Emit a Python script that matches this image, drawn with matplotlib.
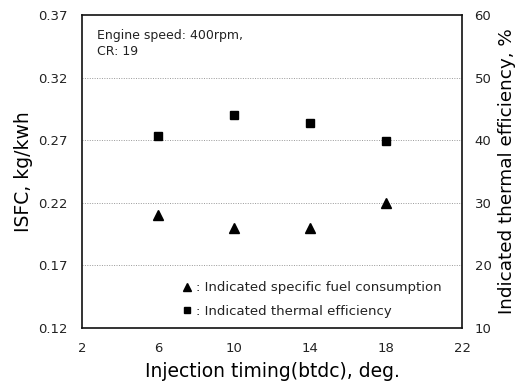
import matplotlib
matplotlib.use("Agg")
import matplotlib.pyplot as plt
from matplotlib.lines import Line2D

plt.rcParams['font.family'] = ['DejaVu Sans']

timing = [6, 10, 14, 18]
isfc = [0.210, 0.200, 0.200, 0.220]
ite = [40.7, 44.0, 42.7, 39.9]
left_ticks = [0.12, 0.17, 0.22, 0.27, 0.32, 0.37]
right_ticks = [10, 20, 30, 40, 50, 60]
x_ticks = [2, 6, 10, 14, 18, 22]

fig = plt.figure(figsize=(5.24, 3.89), dpi=100)
ax = fig.add_axes([0.1565, 0.1568, 0.7252, 0.8042])
ax.set_xlim(2, 22)
ax.set_ylim(0.12, 0.37)
ax.set_xticks(x_ticks)
ax.set_yticks(left_ticks)
ax.set_yticklabels([f"{t:.2f}" for t in left_ticks])
for t in left_ticks[1:-1]:
    ax.axhline(t, color='#999999', lw=0.7, ls=(0, (1, 1.5)), zorder=0)
ax.tick_params(axis='y', length=0, labelsize=9.5, pad=10, colors='#222222')
ax.tick_params(axis='x', length=0, labelsize=9.5, pad=10, colors='#222222')
for s in ax.spines.values():
    s.set_linewidth(1.2)
    s.set_color('#111111')

ax.plot(timing, isfc, ls='none', marker='^', color='black', ms=7)

ax2 = ax.twinx()
ax2.set_ylim(10, 60)
ax2.set_yticks(right_ticks)
ax2.tick_params(length=0, labelsize=9.5, pad=9, colors='#222222')
ax2.plot(timing, ite, ls='none', marker='s', color='black', ms=6)
for s in ax2.spines.values():
    s.set_visible(False)

ax.set_xlabel('Injection timing(btdc), deg.', fontsize=13.5, labelpad=5)
ax.set_ylabel('ISFC, kg/kwh', fontsize=13.5, labelpad=4)
ax2.set_ylabel('Indicated thermal efficiency, %', fontsize=13.2, labelpad=5)

ax.text(0.04, 0.955, 'Engine speed: 400rpm,\nCR: 19', transform=ax.transAxes,
        fontsize=9, va='top', ha='left', linespacing=1.3, color='#222222')

handles = [Line2D([], [], ls='none', marker='^', color='black', ms=6),
           Line2D([], [], ls='none', marker='s', color='black', ms=5)]
labels = [': Indicated specific fuel consumption', ': Indicated thermal efficiency']
ax.legend(handles, labels, loc='lower left', bbox_to_anchor=(0.23, -0.005),
          frameon=False, fontsize=9.5, handlelength=0.8, handletextpad=0.3,
          labelspacing=0.8, labelcolor='#222222')

fig.savefig('out.png', dpi=100)
